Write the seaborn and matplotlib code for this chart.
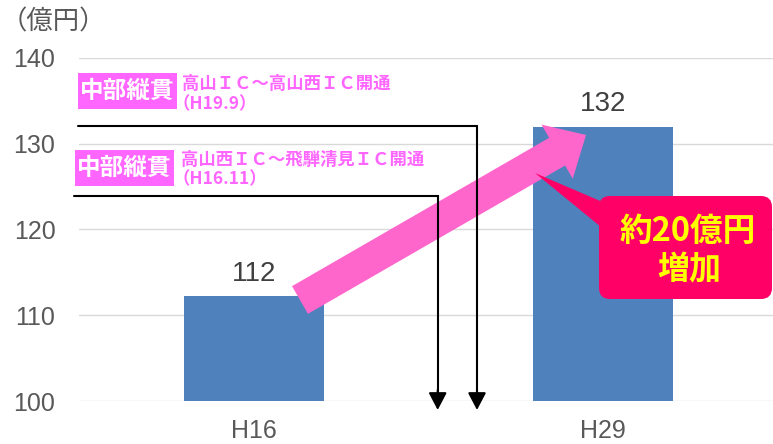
import matplotlib
matplotlib.use("Agg")
import matplotlib.pyplot as plt
import seaborn as sns
from matplotlib.patches import FancyBboxPatch, Polygon, Rectangle
from matplotlib.transforms import Affine2D

years = ["H16", "H29"]
revenue = [112.2, 132.0]
bar_labels = ["112", "132"]
yticks = [100, 110, 120, 130, 140]

W, H = 773, 444
BAR = "#4F81BD"
MAGENTA = "#FF66FF"
PINK = "#FF66CC"
CALLOUT = "#FF0066"
GREY = "#595959"
CJK = ["Noto Sans CJK JP", "DejaVu Sans"]

sns.set_style("white")
plt.rcParams["font.family"] = ["Liberation Sans", "Noto Sans CJK JP", "DejaVu Sans"]

fig = plt.figure(figsize=(W / 100, H / 100), dpi=100)
ax = fig.add_axes([79 / W, 43 / H, 699 / W, 343 / H])

sns.barplot(x=years, y=revenue, color=BAR, width=0.4, linewidth=0, saturation=1, ax=ax, zorder=2)
ax.bar_label(ax.containers[0], labels=bar_labels, padding=7, fontsize=20, color="#404040")

ax.set_ylim(100, 140)
ax.set_xlim(-0.5, 1.5)
ax.set_yticks(yticks)
ax.yaxis.grid(True, color="#D9D9D9", lw=1.0, zorder=0)
ax.set_axisbelow(True)
sns.despine(ax=ax, left=True, bottom=True)
ax.tick_params(axis="y", length=0, pad=17, labelsize=18, labelcolor=GREY)
ax.tick_params(axis="x", length=0, pad=13, labelsize=18, labelcolor=GREY)
ax.set_xlabel("")
ax.set_ylabel("")

# pixel coordinates (origin top-left) for the decorations
px = Affine2D().scale(1 / W, -1 / H).translate(0, 1) + fig.transFigure

fig.text(1, 22, "（億円）", transform=px, fontsize=19, color=GREY, va="center", ha="left",
         family=CJK)

# big pink arrow
ax.annotate("", xy=(586, 135), xytext=(300, 300), xycoords=px, textcoords=px,
            annotation_clip=False, zorder=3,
            arrowprops=dict(arrowstyle="simple,head_length=2.4,head_width=4.5,tail_width=2.3",
                            mutation_scale=10, color=PINK, lw=0, shrinkA=0, shrinkB=0))

# opening lines with down arrows
for y_line, x_left, x_drop in [(125.7, 78, 477), (196, 74, 437.7)]:
    ax.plot([x_left, x_drop, x_drop], [y_line, y_line, 398], color="black", lw=1.5,
            transform=px, clip_on=False, zorder=4, solid_joinstyle="miter")
    ax.annotate("", xy=(x_drop, 410), xytext=(x_drop, 390), xycoords=px, textcoords=px,
                annotation_clip=False, zorder=4,
                arrowprops=dict(arrowstyle="-|>,head_length=10.5,head_width=5.5",
                                mutation_scale=1, color="black", lw=1.5,
                                shrinkA=0, shrinkB=0))

# labels for the openings: (box left, box top, text x, line 1, line 2, y1, y2)
labels = [
    (78, 73, 182, "高山ＩＣ～高山西ＩＣ開通", "（H19.9）", 84, 104),
    (75, 150, 181, "高山西ＩＣ～飛騨清見ＩＣ開通", "（H16.11）", 160, 179),
]
for bx, by, x_txt, line1, line2, y1, y2 in labels:
    fig.add_artist(Rectangle((bx, by), 99, 36, fc=MAGENTA, ec="none", transform=px))
    fig.text(bx + 49.5, by + 18, "中部縦貫", transform=px, fontsize=17,
             fontweight="bold", color="white", ha="center", va="center", family=CJK)
    fig.text(x_txt, y1, line1, transform=px, fontsize=12.5, fontweight="bold",
             color=MAGENTA, ha="left", va="center", family=CJK)
    fig.text(x_txt - 9, y2, line2, transform=px, fontsize=12.5, fontweight="bold",
             color=MAGENTA, ha="left", va="center", family=CJK)

# callout
pointer = Polygon([(535, 173), (612, 206), (612, 236)], closed=True, fc=CALLOUT, ec="none",
                  transform=px, zorder=5)
fig.add_artist(pointer)
box = FancyBboxPatch((599, 196), 173, 103, boxstyle="round,pad=0,rounding_size=11",
                     fc=CALLOUT, ec="none", transform=px, zorder=5)
fig.add_artist(box)
fig.text(688, 231, "約20億円", transform=px, fontsize=23.5, fontweight="bold", color="#FFFF00",
         ha="center", va="center", family=CJK, zorder=6)
fig.text(689, 270, "増加", transform=px, fontsize=23, fontweight="bold", color="#FFFF00",
         ha="center", va="center", family=CJK, zorder=6)

fig.savefig("out.png", dpi=100)
